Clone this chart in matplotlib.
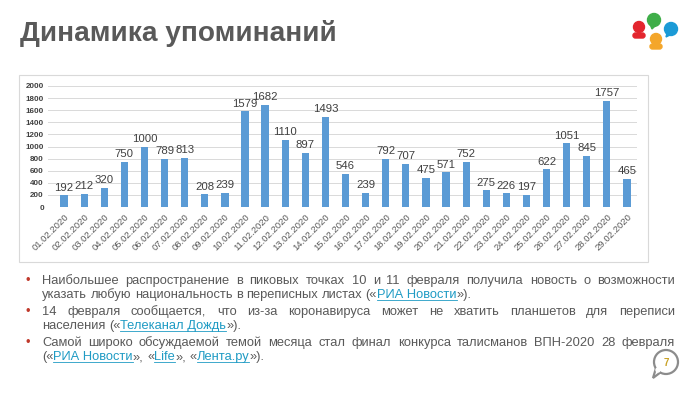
import matplotlib.pyplot as plt
from matplotlib.patches import Circle, Ellipse, FancyBboxPatch, Rectangle, Polygon

# ---- data
dates = ["01.02.2020", "02.02.2020", "03.02.2020", "04.02.2020", "05.02.2020",
         "06.02.2020", "07.02.2020", "08.02.2020", "09.02.2020", "10.02.2020",
         "11.02.2020", "12.02.2020", "13.02.2020", "14.02.2020", "15.02.2020",
         "16.02.2020", "17.02.2020", "18.02.2020", "19.02.2020", "20.02.2020",
         "21.02.2020", "22.02.2020", "23.02.2020", "24.02.2020", "25.02.2020",
         "26.02.2020", "27.02.2020", "28.02.2020", "29.02.2020"]
mentions = [192, 212, 320, 750, 1000, 789, 813, 208, 239, 1579,
            1682, 1110, 897, 1493, 546, 239, 792, 707, 475, 571,
            752, 275, 226, 197, 622, 1051, 845, 1757, 465]
y_ticks = list(range(0, 2001, 200))

title = "Динамика упоминаний"
page_no = "7"

# bullet paragraphs: each line is a list of tokens, a token is a list of (text, is_link)
bullets = [
    [
        ("Наибольшее распространение в пиковых точках 10 и 11 февраля получила новость о возможности", True),
        ([[("указать", 0)], [("любую", 0)], [("национальность", 0)], [("в", 0)], [("переписных", 0)],
          [("листах", 0)], [("(«", 0), ("РИА Новости", 1), ("»).", 0)]], False),
    ],
    [
        ("14 февраля сообщается, что из-за коронавируса может не хватить планшетов для переписи", True),
        ([[("населения", 0)], [("(«", 0), ("Телеканал Дождь", 1), ("»).", 0)]], False),
    ],
    [
        ("Самой широко обсуждаемой темой месяца стал финал конкурса талисманов ВПН-2020 28 февраля", True),
        ([[("(«", 0), ("РИА Новости", 1), ("»,", 0)], [("«", 0), ("Life", 1), ("»,", 0)],
          [("«", 0), ("Лента.ру", 1), ("»).", 0)]], False),
    ],
]

W, H = 700, 393
BAR = "#5b9bd5"
TXT = "#595959"
LINK = "#1f9bc4"
FONT = "Liberation Sans"

fig = plt.figure(figsize=(W / 100, H / 100), dpi=100)
fig.patch.set_facecolor("white")


def fx(x):
    return x / W


def fy(y):
    return 1 - y / H


# title
fig.text(fx(20), fy(41), title, fontsize=20.2, fontweight="bold", color=TXT,
         family=FONT, va="baseline", ha="left")

# chart frame
fig.add_artist(Rectangle((fx(19), fy(262)), fx(648) - fx(19), fy(75) - fy(262),
                         transform=fig.transFigure, fill=False, edgecolor="#d9d9d9", lw=0.8))

# chart
ax = fig.add_axes([fx(48), fy(207), fx(637) - fx(48), fy(86) - fy(207)])
x = list(range(len(mentions)))
bars = ax.bar(x, mentions, width=0.36, color=BAR, zorder=3)
ax.bar_label(bars, labels=[str(v) for v in mentions], padding=2, fontsize=8.2,
             color="#404040", family=FONT)
ax.set_xlim(-0.8, 28.5)
ax.set_ylim(0, 2000)
ax.set_yticks(y_ticks)
ax.set_yticklabels([str(v) for v in y_ticks], fontsize=5.8, fontweight="bold",
                   color="#404040", family=FONT)
ax.set_xticks(x)
ax.set_xticklabels(dates, rotation=45, ha="right", rotation_mode="anchor",
                   fontsize=6.8, color=TXT, family=FONT)
ax.tick_params(length=0, pad=3)
ax.tick_params(axis="x", pad=4)
ax.yaxis.grid(True, color="#d9d9d9", lw=0.7, zorder=0)
for s in ax.spines.values():
    s.set_visible(False)
ax.set_facecolor("none")

# bullets with justified first lines
renderer = fig.canvas.get_renderer()
fsize = 9.3
left, right = 42, 675
line_y = [[284, 298], [315, 329], [346, 360]]


def width_of(s):
    t = fig.text(0, 0, s, fontsize=fsize, family=FONT)
    w = t.get_window_extent(renderer).width
    t.remove()
    return w


space_w = width_of("a a") - width_of("aa")


def draw_tokens(tokens, y, justify):
    widths = [sum(width_of(p) for p, _ in tok) for tok in tokens]
    gap = space_w
    if justify and len(tokens) > 1:
        gap = (right - left - sum(widths)) / (len(tokens) - 1)
    xc = left
    for tok in tokens:
        for piece, link in tok:
            pw = width_of(piece)
            fig.text(fx(xc), fy(y), piece, fontsize=fsize, family=FONT,
                     color=LINK if link else TXT, va="baseline", ha="left")
            if link:
                fig.add_artist(plt.Line2D([fx(xc), fx(xc + pw)], [fy(y + 1.5)] * 2,
                                          transform=fig.transFigure, color=LINK, lw=0.6))
            xc += pw
        xc += gap


for para, ys in zip(bullets, line_y):
    fig.text(fx(26), fy(ys[0]), "•", fontsize=fsize, color="#c0392b",
             va="baseline", ha="left", family=FONT)
    for (content, justify), y in zip(para, ys):
        if isinstance(content, str):
            tokens = [[(w_, 0)] for w_ in content.split()]
        else:
            tokens = content
        draw_tokens(tokens, y, justify)

# logo and page badge in a pixel-coordinate overlay
ov = fig.add_axes([0, 0, 1, 1])
ov.set_xlim(0, W)
ov.set_ylim(H, 0)
ov.axis("off")
ov.set_zorder(-1)

# red person
ov.add_patch(Circle((639, 27), 5.5, color="#e3262e"))
ov.add_patch(FancyBboxPatch((633, 33), 12, 5, boxstyle="round,pad=0,rounding_size=2.5", color="#e3262e"))
# green bubble
ov.add_patch(Circle((654, 20), 6.5, color="#3fae49"))
ov.add_patch(Polygon([[650, 24], [652, 29], [655, 26]], color="#3fae49"))
# blue bubble
ov.add_patch(Circle((671, 29), 6.5, color="#1b9ad6"))
ov.add_patch(Polygon([[667, 33], [666, 37], [670, 35]], color="#1b9ad6"))
# orange person
ov.add_patch(Circle((656, 39), 5.5, color="#f4a62a"))
ov.add_patch(FancyBboxPatch((650, 44), 12, 5, boxstyle="round,pad=0,rounding_size=2.5", color="#f4a62a"))

# page number badge
ov.add_patch(Circle((666, 362), 12, fill=False, edgecolor="#8c8c8c", lw=1.6))
ov.add_patch(Polygon([[656, 368], [653, 378], [661, 372]], closed=False, fill=False,
                     edgecolor="#8c8c8c", lw=1.6))
ov.add_patch(Ellipse((658, 370), 4, 4, color="white"))
ov.text(666, 363, page_no, fontsize=7, color="#c9a227", fontweight="bold",
        ha="center", va="center", family=FONT)

fig.savefig("out.png", dpi=100)
